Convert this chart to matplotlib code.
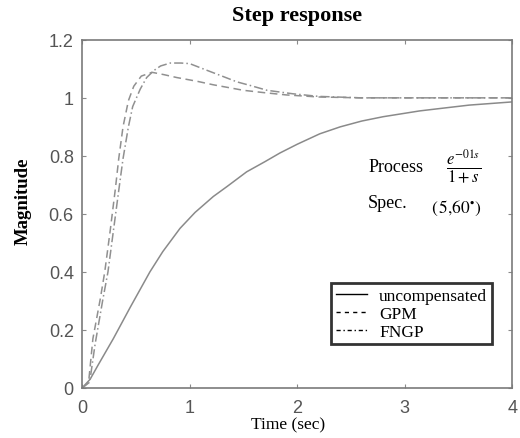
import matplotlib
matplotlib.use("Agg")
import matplotlib.pyplot as plt
from matplotlib.lines import Line2D

# Data
t_unc = [0, 0.074, 0.15, 0.29, 0.45, 0.63, 0.75, 0.91, 1.05, 1.22, 1.35, 1.53, 1.7, 1.84,
         2.0, 2.21, 2.4, 2.6, 2.8, 3.14, 3.3, 3.6, 4.0]
y_unc = [0, 0.03, 0.08, 0.17, 0.28, 0.40, 0.47, 0.55, 0.605, 0.66, 0.695, 0.745, 0.78, 0.81,
         0.84, 0.876, 0.90, 0.92, 0.935, 0.955, 0.962, 0.975, 0.986]

t_gpm = [0, 0.06, 0.10, 0.17, 0.21, 0.26, 0.31, 0.34, 0.38, 0.43, 0.48, 0.55, 0.65, 0.76,
         0.88, 1.07, 1.22, 1.50, 1.69, 1.90, 2.20, 2.60, 3.0, 3.5, 4.0]
y_gpm = [0, 0.02, 0.17, 0.31, 0.40, 0.54, 0.69, 0.79, 0.90, 0.99, 1.04, 1.075, 1.088, 1.08,
         1.07, 1.057, 1.045, 1.026, 1.018, 1.01, 1.003, 1.0, 1.0, 1.0, 1.0]

t_fngp = [0, 0.07, 0.12, 0.19, 0.24, 0.29, 0.34, 0.38, 0.43, 0.47, 0.54, 0.60, 0.67, 0.73,
          0.82, 0.92, 1.0, 1.16, 1.28, 1.44, 1.56, 1.72, 1.96, 2.2, 2.6, 3.0, 3.5, 4.0]
y_fngp = [0, 0.02, 0.15, 0.30, 0.40, 0.54, 0.68, 0.79, 0.90, 0.97, 1.03, 1.07, 1.095, 1.11,
          1.12, 1.12, 1.118, 1.095, 1.078, 1.055, 1.043, 1.026, 1.014, 1.005, 1.0, 1.0, 1.0, 1.0]

labels = ["uncompensated", "GPM", "FNGP"]
x_ticks = [0, 1, 2, 3, 4]
y_ticks = [0, 0.2, 0.4, 0.6, 0.8, 1.0, 1.2]
y_ticklabels = ["0", "0.2", "0.4", "0.6", "0.8", "1", "1.2"]

plt.rcParams["mathtext.fontset"] = "stix"
serif = "Liberation Serif"
sans = "Liberation Sans"

fig = plt.figure(figsize=(5.2, 4.39), dpi=100)
ax = fig.add_axes([0.158, 0.114, 0.827, 0.793])

gray = "#8a8a8a"
ax.plot(t_unc, y_unc, color=gray, lw=1.1, ls="-")
ax.plot(t_gpm, y_gpm, color="#909090", lw=1.1, ls=(0, (5, 3)))
ax.plot(t_fngp, y_fngp, color="#909090", lw=1.1, ls=(0, (6, 2, 1, 2)))

ax.set_xlim(0, 4)
ax.set_ylim(0, 1.2)
ax.set_xticks(x_ticks)
ax.set_xticklabels([str(v) for v in x_ticks], fontfamily=sans, fontsize=13, color="#555555")
ax.set_yticks(y_ticks)
ax.set_yticklabels(y_ticklabels, fontfamily=sans, fontsize=13, color="#555555")
ax.tick_params(direction="in", length=3, color=gray, top=True, right=True)
ax.tick_params(axis="x", pad=8)
ax.tick_params(axis="y", pad=6)
for s in ax.spines.values():
    s.set_color("#7a7a7a")
    s.set_linewidth(1.2)

ax.set_title("Step response", fontfamily=serif, fontsize=16, fontweight="bold", pad=14)
ax.set_xlabel("Time (sec)", fontfamily=serif, fontsize=12.5)
ax.xaxis.set_label_coords(0.479, -0.083)
ax.set_ylabel("Magnitude", fontfamily=serif, fontsize=13.5, fontweight="bold")
ax.yaxis.set_label_coords(-0.118, 0.54)

ax.text(2.66, 0.765, "Process", fontfamily=serif, fontsize=13, va="center", ha="left")
ax.text(3.55, 0.765, r"$\frac{e^{-01s}}{1+s}$", fontsize=17, va="center", ha="center")
ax.text(2.66, 0.64, "Spec.", fontfamily=serif, fontsize=13, va="center", ha="left")
ax.text(3.48, 0.622, r"$(\,5{,}60^{\bullet})$", fontsize=12.5, va="center", ha="center")

h1 = Line2D([], [], color="black", lw=1.0, ls="-")
h2 = Line2D([], [], color="black", lw=1.0, ls=(0, (3, 3)))
h3 = Line2D([], [], color="black", lw=1.0, ls=(0, (3, 2, 1, 2)))
leg = ax.legend([h1, h2, h3], labels, loc="lower right", bbox_to_anchor=(0.952, 0.126),
                prop={"family": serif, "size": 12.5}, frameon=True, fancybox=False,
                handlelength=1.8, handletextpad=0.7, borderpad=0.25, labelspacing=0.1,
                borderaxespad=0)
leg.get_frame().set_edgecolor("black")
leg.get_frame().set_linewidth(2.0)

fig.savefig("out.png", dpi=100)
